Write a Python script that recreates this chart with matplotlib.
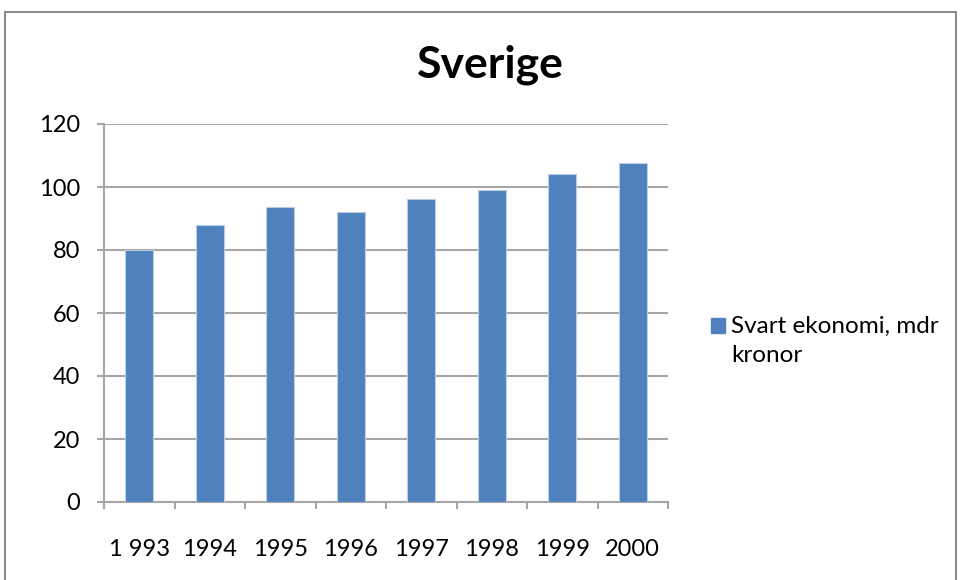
import matplotlib.pyplot as plt
import matplotlib.patches as patches
import numpy as np

years = ['1 993', '1994', '1995', '1996', '1997', '1998', '1999', '2000']
values = [80, 88, 93.5, 92, 96.3, 99.2, 104.1, 107.7]
series_name = 'Svart ekonomi, mdr\nkronor'

bar_color = '#4f81bd'
grid_color = '#a6a6a6'

plt.rcParams['font.family'] = ['Lato', 'DejaVu Sans']

fig = plt.figure(figsize=(9.62, 5.8), dpi=100)

# outer chart frame
frame = patches.Rectangle((5/962, -0.05), 951/962, 1.05 - 12/580, transform=fig.transFigure,
                          fill=False, edgecolor='#8c8c8c', linewidth=1.5, clip_on=False)
fig.patches.append(frame)

ax = fig.add_axes([104/962, 78/580, 564/962, 378/580])
x = np.arange(len(years))
ax.bar(x, values, width=0.4, color=bar_color, edgecolor='#b9cde5', linewidth=0.8, zorder=3)

ax.set_xlim(-0.5, len(years) - 0.5)
ax.set_ylim(0, 120)
ax.set_yticks(range(0, 121, 20))
ax.yaxis.grid(True, color=grid_color, linewidth=1.5, zorder=0)

for key, spine in ax.spines.items():
    spine.set_visible(False)
ax.spines['left'].set_visible(True)
ax.spines['bottom'].set_visible(True)
ax.spines['left'].set_color(grid_color)
ax.spines['bottom'].set_color(grid_color)
ax.spines['left'].set_linewidth(1.5)
ax.spines['bottom'].set_linewidth(1.5)

# category labels centered, tick marks at the boundaries
ax.set_xticks(x)
ax.set_xticklabels(years)
ax.set_xticks(np.arange(-0.5, len(years)), minor=True)
ax.tick_params(axis='x', which='major', length=0, pad=27, labelsize=17)
ax.tick_params(axis='x', which='minor', length=5, width=1.5, color=grid_color)
ax.tick_params(axis='y', length=5, width=1.5, color=grid_color, pad=12, labelsize=17)

fig.text(490/962, 1 - 65/580, 'Sverige', ha='center', va='center', fontsize=32, fontweight='bold')

# legend
fig.patches.append(patches.Rectangle((711/962, 1 - 333/580), 14/962, 15/580, transform=fig.transFigure,
                                     color=bar_color))
fig.text(731/962, 1 - 316/580, series_name, ha='left', va='top', fontsize=17.5,
         linespacing=1.5, transform=fig.transFigure)

plt.savefig('out.png', dpi=100)
